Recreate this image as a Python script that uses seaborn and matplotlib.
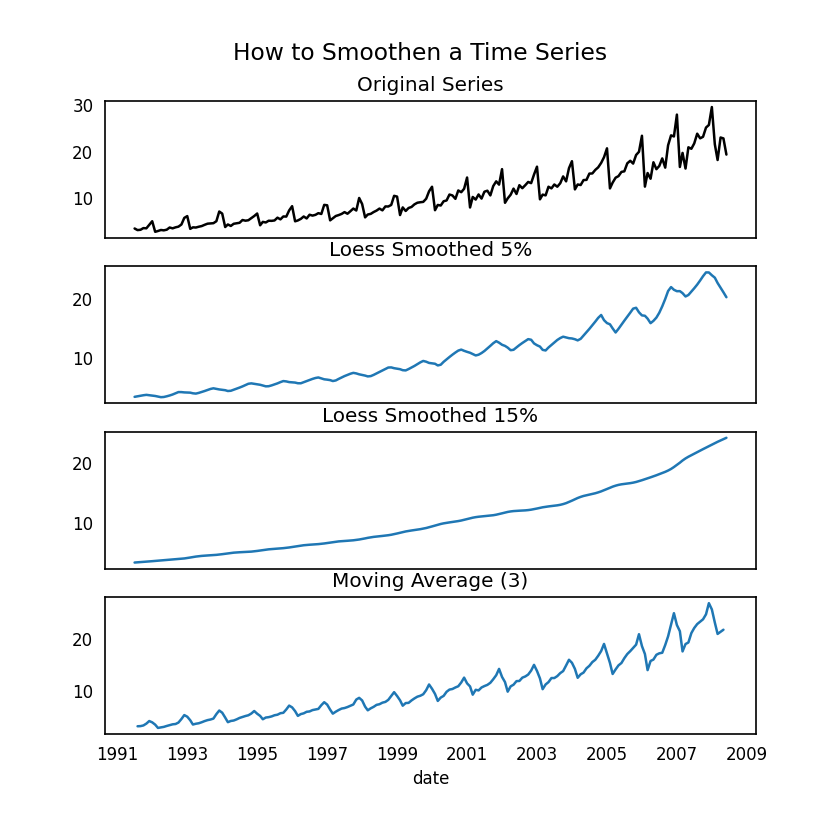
import numpy as np
import pandas as pd
import matplotlib.pyplot as plt
import matplotlib.dates as mdates
import seaborn as sns

# monthly drug sales, Jul 1991 - Jun 2008
sales_1991 = [3.526591, 3.180891, 3.252221, 3.611003, 3.565869, 4.306371]
sales_1992 = [5.088335, 2.814520, 2.985811, 3.204780, 3.127578, 3.270523,
              3.737851, 3.558776, 3.777202, 3.924490, 4.386531, 5.810549]
sales_1993 = [6.192068, 3.450857, 3.772307, 3.734303, 3.905399, 4.049687,
              4.315566, 4.562185, 4.608662, 4.667851, 5.093841, 7.179962]
sales_1994 = [6.731473, 3.841278, 4.394076, 4.075341, 4.540645, 4.645615,
              4.752607, 5.350605, 5.204455, 5.301651, 5.773742, 6.204593]
sales_1995 = [6.749484, 4.216067, 4.949349, 4.823045, 5.194754, 5.170787,
              5.256742, 5.855277, 5.490729, 6.115293, 6.088473, 7.416598]
sales_1996 = [8.329452, 5.069796, 5.262557, 5.597126, 6.110296, 5.689161,
              6.486849, 6.300569, 6.467476, 6.828629, 6.649078, 8.606937]
sales_1997 = [8.524471, 5.277918, 5.714303, 6.214529, 6.411929, 6.667716,
              7.050831, 6.704919, 7.250988, 7.819733, 7.398101, 10.096233]
sales_1998 = [8.798513, 5.918261, 6.534493, 6.675736, 7.064201, 7.383381,
              7.813406, 7.431892, 8.275117, 8.260441, 8.596156, 10.558939]
sales_1999 = [10.391416, 6.421535, 8.062619, 7.297739, 7.936916, 8.165323,
              8.717420, 9.070964, 9.177113, 9.251887, 9.933136, 11.532974]
sales_2000 = [12.511462, 7.457199, 8.591191, 8.474000, 9.386803, 9.560399,
              10.834295, 10.643751, 9.908162, 11.710041, 11.340151, 12.079132]
sales_2001 = [14.497581, 8.049275, 10.312891, 9.753358, 10.850382, 9.961719,
              11.443601, 11.659239, 10.647060, 12.652134, 13.674466, 12.965735]
sales_2002 = [16.300269, 9.053485, 10.002449, 10.788750, 12.106705, 10.954101,
              12.844566, 12.196500, 12.854748, 13.542004, 13.287640, 15.134918]
sales_2003 = [16.828350, 9.800215, 10.816994, 10.654223, 12.512323, 12.161210,
              12.998046, 12.517276, 13.268658, 14.733622, 13.669382, 16.503966]
sales_2004 = [18.003768, 11.938030, 12.997900, 12.882645, 13.943447, 13.989472,
              15.339097, 15.370764, 16.142005, 16.685754, 17.636728, 18.869325]
sales_2005 = [20.778723, 12.154552, 13.402392, 14.459239, 14.795102, 15.705248,
              15.829550, 17.554701, 18.100864, 17.496668, 19.347265, 20.031291]
sales_2006 = [23.486694, 12.536987, 15.467018, 14.233539, 17.783058, 16.291602,
              16.980282, 18.612189, 16.623343, 21.430241, 23.575517, 23.334206]
sales_2007 = [28.038383, 16.763869, 19.792754, 16.427305, 21.000742, 20.681002,
              21.834890, 23.930204, 22.930357, 23.263340, 25.250030, 25.806090]
sales_2008 = [29.665356, 21.654285, 18.264945, 23.107677, 22.912510, 19.431740]

values = (sales_1991 + sales_1992 + sales_1993 + sales_1994 + sales_1995 + sales_1996
          + sales_1997 + sales_1998 + sales_1999 + sales_2000 + sales_2001 + sales_2002
          + sales_2003 + sales_2004 + sales_2005 + sales_2006 + sales_2007 + sales_2008)
dates = pd.date_range('1991-07-01', periods=len(values), freq='MS')

tick_years = list(range(1991, 2010, 2))


def lowess(y, frac, iters=3):
    # plain local-linear lowess with tricube weights and robustness steps
    y = np.asarray(y, dtype=float)
    n = len(y)
    x = np.arange(n, dtype=float)
    k = int(frac * n + 1e-10)
    robust = np.ones(n)
    fitted = np.zeros(n)
    for _ in range(iters + 1):
        for i in range(n):
            d = np.abs(x - x[i])
            idx = np.argsort(d)[:k]
            radius = d[idx].max()
            w = np.zeros(n)
            u = np.clip(d[idx] / radius, 0, 1)
            w[idx] = (1 - u ** 3) ** 3
            w = w * robust
            sw = w.sum()
            xm = (w * x).sum() / sw
            ym = (w * y).sum() / sw
            var = (w * (x - xm) ** 2).sum()
            b = (w * (x - xm) * (y - ym)).sum() / var if var > 0 else 0.0
            fitted[i] = ym + b * (x[i] - xm)
        resid = y - fitted
        s = np.median(np.abs(resid))
        r = np.clip(resid / (6 * s), -1, 1)
        robust = (1 - r ** 2) ** 2
    return fitted


df = pd.DataFrame({'date': dates, 'value': values})
df['loess_5'] = lowess(df['value'], 0.05)
df['loess_15'] = lowess(df['value'], 0.15)
df['ma_3'] = df['value'].rolling(3, center=True).mean()

sns.set_style('white')
plt.rcParams['font.family'] = ['DejaVu Sans']
plt.rcParams['text.color'] = 'black'
plt.rcParams['axes.labelcolor'] = 'black'
plt.rcParams['xtick.color'] = 'black'
plt.rcParams['ytick.color'] = 'black'

fig, axes = plt.subplots(4, 1, figsize=(7, 7), sharex=True, dpi=120)
fig.subplots_adjust(left=0.125, right=0.9, top=0.88, bottom=0.126, hspace=0.205)

panels = [('value', 'Original Series', 'k'),
          ('loess_5', 'Loess Smoothed 5%', '#1f77b4'),
          ('loess_15', 'Loess Smoothed 15%', '#1f77b4'),
          ('ma_3', 'Moving Average (3)', '#1f77b4')]

for ax, (col, title, color) in zip(axes, panels):
    sns.lineplot(data=df, x='date', y=col, ax=ax, color=color, linewidth=1.5)
    ax.set_title(title, fontsize=12, color='black')
    ax.set_ylabel('')
    ax.set_xlabel('')
    for sp in ax.spines.values():
        sp.set_color('black')
        sp.set_linewidth(1)
    ax.tick_params(labelsize=10, colors='black')

axes[-1].set_xlabel('date', fontsize=10)
axes[-1].set_xticks(pd.to_datetime([f'{yr}-01-01' for yr in tick_years]))
axes[-1].xaxis.set_major_formatter(mdates.DateFormatter('%Y'))

fig.suptitle('How to Smoothen a Time Series', y=0.95, fontsize=14, color='black')
fig.savefig('out.png', dpi=120)
